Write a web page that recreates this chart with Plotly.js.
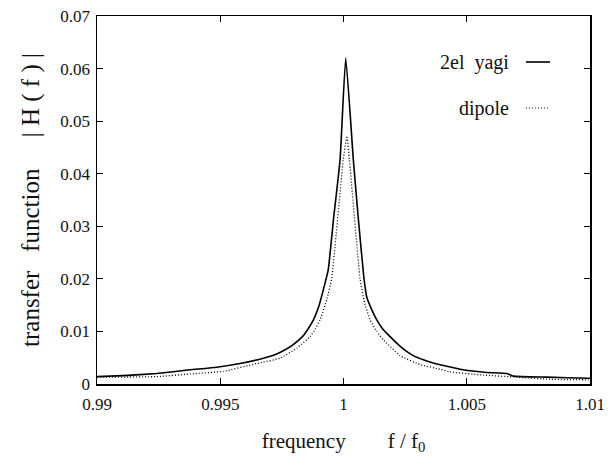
<!DOCTYPE html>
<html>
<head>
<meta charset="utf-8">
<script src="https://cdn.plot.ly/plotly-3.0.1.min.js"></script>
<style>html,body{margin:0;padding:0;background:#fff;}#chart{width:616px;height:463px;}</style>
</head>
<body>
<div id="chart"></div>
<script>
// frequency f/f0 and |H(f)|
const yagiFreq = [0.99000, 0.99107, 0.99242, 0.99377, 0.99486, 0.99580, 0.99675, 0.99729, 0.99770, 0.99796, 0.99837, 0.99858, 0.99878, 0.99900, 0.99918, 0.99938, 0.99960, 0.99986, 1.00009, 1.00040, 1.00061, 1.00083, 1.00094, 1.00114, 1.00135, 1.00160, 1.00189, 1.00229, 1.00256, 1.00283, 1.00324, 1.00364, 1.00486, 1.00581, 1.00662, 1.00689, 1.00824, 1.00993, 1.01000];
const yagiH    = [0.0014, 0.0016, 0.0020, 0.0027, 0.0032, 0.0039, 0.0049, 0.0057, 0.0067, 0.0075, 0.0092, 0.0106, 0.0122, 0.0148, 0.0179, 0.0217, 0.0316, 0.0426, 0.0620, 0.0426, 0.0310, 0.0201, 0.0166, 0.0142, 0.0122, 0.0104, 0.0090, 0.0072, 0.0062, 0.0054, 0.0046, 0.0040, 0.0027, 0.0022, 0.0020, 0.0015, 0.0013, 0.0011, 0.0011];

const dipoleFreq = [0.99000, 0.99242, 0.99377, 0.99512, 0.99648, 0.99742, 0.99810, 0.99864, 0.99885, 0.99905, 0.99932, 0.99952, 0.99999, 1.00014, 1.00024, 1.00067, 1.00085, 1.00108, 1.00135, 1.00162, 1.00229, 1.00310, 1.00392, 1.00432, 1.00567, 1.00703, 1.00838, 1.00993, 1.01000];
const dipoleH    = [0.0013, 0.0014, 0.0019, 0.0024, 0.0039, 0.0049, 0.0068, 0.0090, 0.0104, 0.0122, 0.0160, 0.0201, 0.0426, 0.0472, 0.0426, 0.0201, 0.0155, 0.0122, 0.0100, 0.0084, 0.0054, 0.0037, 0.0028, 0.0023, 0.0017, 0.0013, 0.0009, 0.0008, 0.0008];

const xTicks = [0.99, 0.995, 1, 1.005, 1.01];
const xTickLabels = ['0.99', '0.995', '1', '1.005', '1.01'];
const yTicks = [0, 0.01, 0.02, 0.03, 0.04, 0.05, 0.06, 0.07];
const yTickLabels = ['0', '0.01', '0.02', '0.03', '0.04', '0.05', '0.06', '0.07'];
const seriesNames = ['2el\u00a0\u00a0yagi', 'dipole'];

const serif = 'Liberation Serif, Times New Roman, serif';

const traces = [
  {x: yagiFreq, y: yagiH, type: 'scatter', mode: 'lines', name: seriesNames[0],
   line: {color: '#000', width: 1.6, dash: 'solid', shape: 'spline', smoothing: 0.4}},
  {x: dipoleFreq, y: dipoleH, type: 'scatter', mode: 'lines', name: seriesNames[1],
   line: {color: '#000', width: 1.3, dash: '1px,2px', shape: 'spline', smoothing: 0.4}}
];

const axisCommon = {
  showgrid: false, zeroline: false, showline: true, linecolor: '#000', linewidth: 1.5,
  mirror: 'allticks', ticks: 'inside', ticklen: 6, tickcolor: '#000', tickwidth: 1.2,
  tickfont: {family: serif, size: 17, color: '#111'}
};

const layout = {
  width: 616, height: 463,
  margin: {l: 97, r: 26, t: 16, b: 79},
  paper_bgcolor: '#fff', plot_bgcolor: '#fff',
  showlegend: false,
  xaxis: Object.assign({}, axisCommon, {
    range: [0.99, 1.01], tickmode: 'array', tickvals: xTicks, ticktext: xTickLabels,
    ticklabelstandoff: 4,
    title: {text: 'frequency\u00a0\u00a0\u00a0\u00a0\u00a0\u00a0\u00a0\u00a0f\u00a0/\u00a0f<sub>0</sub>', font: {family: serif, size: 21, color: '#111'}, standoff: 20}
  }),
  yaxis: Object.assign({}, axisCommon, {
    range: [0, 0.07], tickmode: 'array', tickvals: yTicks, ticktext: yTickLabels,
    ticklabelstandoff: 2,
    title: {text: 'transfer\u00a0\u00a0\u00a0function\u00a0\u00a0\u00a0\u00a0\u00a0|\u00a0H\u00a0(\u00a0f\u00a0)\u00a0|', font: {family: serif, size: 25, color: '#111'}, standoff: 13}
  }),
  annotations: [
    {xref: 'paper', yref: 'paper', x: 0.84, y: 0.875, xanchor: 'right', yanchor: 'middle', showarrow: false,
     text: seriesNames[0], font: {family: serif, size: 20, color: '#111'}},
    {xref: 'paper', yref: 'paper', x: 0.84, y: 0.75, xanchor: 'right', yanchor: 'middle', showarrow: false,
     text: seriesNames[1], font: {family: serif, size: 20, color: '#111'}}
  ],
  shapes: [
    {type: 'line', xref: 'paper', yref: 'paper', x0: 0.870, x1: 0.919, y0: 0.875, y1: 0.875, line: {color: '#000', width: 1.6}},
    {type: 'line', xref: 'paper', yref: 'paper', x0: 0.870, x1: 0.915, y0: 0.75, y1: 0.75, line: {color: '#000', width: 1.2, dash: '1px,2px'}}
  ]
};

Plotly.newPlot('chart', traces, layout, {displayModeBar: false, staticPlot: true});
</script>
</body>
</html>
